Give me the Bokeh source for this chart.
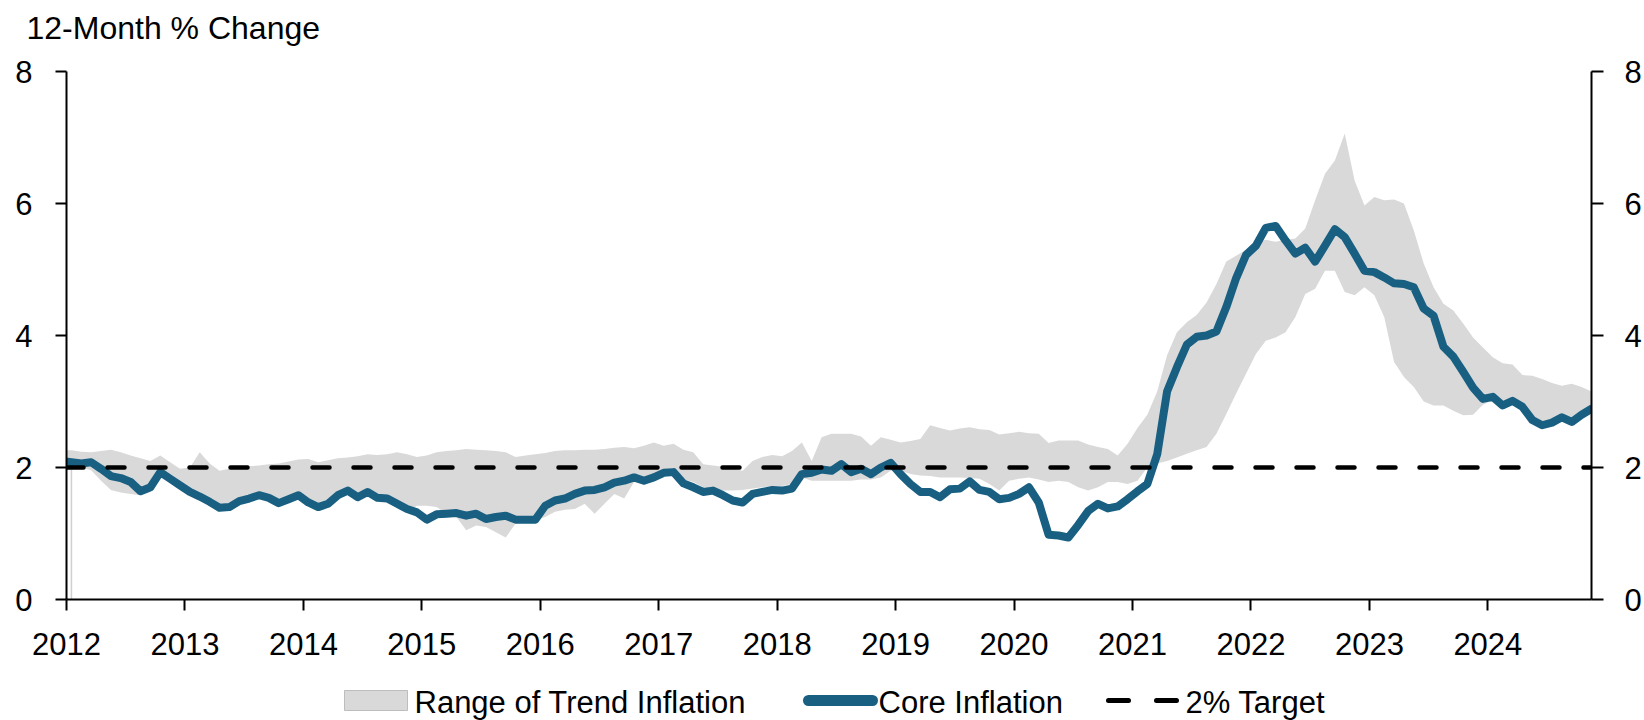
import numpy as np
import pandas as pd
from bokeh.plotting import figure
from bokeh.layouts import column
from bokeh.models import Range1d, LinearAxis, FixedTicker, Span
from bokeh.core.properties import value
from bokeh.embed import file_html
from bokeh.resources import INLINE

# ---------------- data (monthly, Dec 2011 .. Nov 2024) ----------------
months = pd.period_range("2011-12", "2024-11", freq="M")

core_inflation = [
    2.10, 2.08, 2.06, 2.08, 1.98, 1.87, 1.84, 1.78, 1.64, 1.70,
    1.93, 1.83, 1.73, 1.63, 1.56, 1.48, 1.39, 1.40, 1.49, 1.53,
    1.58, 1.54, 1.46, 1.52, 1.58, 1.47, 1.40, 1.45, 1.58, 1.65,
    1.55, 1.63, 1.54, 1.53, 1.45, 1.37, 1.32, 1.21, 1.29, 1.30,
    1.31, 1.27, 1.30, 1.22, 1.25, 1.27, 1.21, 1.21, 1.21, 1.42,
    1.50, 1.53, 1.60, 1.65, 1.66, 1.70, 1.77, 1.80, 1.85, 1.80,
    1.85, 1.92, 1.93, 1.76, 1.70, 1.63, 1.65, 1.58, 1.50, 1.47,
    1.60, 1.63, 1.66, 1.65, 1.68, 1.90, 1.92, 1.97, 1.95, 2.05,
    1.93, 1.98, 1.90, 2.00, 2.07, 1.90, 1.75, 1.63, 1.63, 1.55,
    1.67, 1.68, 1.79, 1.66, 1.63, 1.52, 1.54, 1.60, 1.70, 1.47,
    0.98, 0.97, 0.94, 1.13, 1.34, 1.45, 1.38, 1.41, 1.52, 1.64,
    1.75, 2.20, 3.15, 3.52, 3.86, 3.98, 4.00, 4.06, 4.43, 4.87,
    5.22, 5.36, 5.63, 5.66, 5.44, 5.24, 5.33, 5.12, 5.36, 5.61,
    5.49, 5.24, 4.98, 4.96, 4.88, 4.79, 4.78, 4.73, 4.41, 4.30,
    3.83, 3.68, 3.45, 3.21, 3.04, 3.07, 2.94, 3.01, 2.92, 2.72,
    2.64, 2.68, 2.76, 2.69, 2.80, 2.89,
]

trend_low = [
    2.02, 2.02, 2.00, 1.96, 1.80, 1.66, 1.62, 1.60, 1.58, 1.63,
    1.88, 1.80, 1.69, 1.59, 1.52, 1.44, 1.35, 1.36, 1.45, 1.49,
    1.54, 1.50, 1.42, 1.48, 1.54, 1.43, 1.36, 1.41, 1.54, 1.61,
    1.51, 1.59, 1.50, 1.49, 1.41, 1.33, 1.42, 1.42, 1.40, 1.30,
    1.25, 1.05, 1.12, 1.10, 1.02, 0.94, 1.15, 1.18, 1.20, 1.25,
    1.33, 1.36, 1.37, 1.45, 1.30, 1.45, 1.60, 1.53, 1.78, 1.76,
    1.80, 1.88, 1.90, 1.82, 1.78, 1.70, 1.66, 1.65, 1.65, 1.66,
    1.68, 1.70, 1.72, 1.72, 1.75, 1.85, 1.80, 1.80, 1.80, 1.80,
    1.80, 1.82, 1.82, 1.85, 1.95, 1.95, 1.90, 1.88, 1.87, 1.85,
    1.85, 1.85, 1.84, 1.83, 1.75, 1.65, 1.80, 1.83, 1.85, 1.82,
    1.78, 1.80, 1.78, 1.70, 1.65, 1.70, 1.78, 1.78, 1.75, 1.80,
    2.00, 2.06, 2.10, 2.15, 2.21, 2.26, 2.31, 2.51, 2.81, 3.12,
    3.42, 3.72, 3.92, 3.97, 4.05, 4.28, 4.63, 4.71, 4.98, 4.98,
    4.66, 4.61, 4.73, 4.61, 4.28, 3.60, 3.37, 3.22, 3.00, 2.94,
    2.94, 2.86, 2.79, 2.80, 2.95, 3.02, 2.89, 2.96, 2.87, 2.67,
    2.59, 2.63, 2.71, 2.64, 2.75, 2.84,
]

trend_high = [
    2.26, 2.26, 2.24, 2.23, 2.25, 2.27, 2.23, 2.18, 2.14, 2.10,
    2.18, 2.08, 1.98, 2.00, 2.23, 2.06, 1.95, 1.98, 2.01, 2.02,
    2.03, 2.05, 2.06, 2.09, 2.12, 2.13, 2.08, 2.11, 2.14, 2.15,
    2.17, 2.20, 2.19, 2.20, 2.23, 2.20, 2.16, 2.18, 2.23, 2.25,
    2.26, 2.28, 2.27, 2.26, 2.25, 2.23, 2.16, 2.18, 2.20, 2.22,
    2.25, 2.26, 2.26, 2.27, 2.27, 2.28, 2.30, 2.31, 2.29, 2.33,
    2.38, 2.33, 2.36, 2.27, 2.23, 2.05, 2.03, 2.01, 1.98, 1.95,
    2.10, 2.16, 2.19, 2.17, 2.25, 2.38, 2.10, 2.46, 2.51, 2.51,
    2.51, 2.47, 2.33, 2.46, 2.42, 2.38, 2.40, 2.43, 2.64, 2.60,
    2.56, 2.59, 2.61, 2.58, 2.57, 2.50, 2.52, 2.54, 2.52, 2.51,
    2.37, 2.41, 2.41, 2.41, 2.35, 2.31, 2.28, 2.18, 2.36, 2.60,
    2.80, 3.15, 3.70, 4.05, 4.20, 4.31, 4.50, 4.78, 5.12, 5.21,
    5.30, 5.40, 5.45, 5.42, 5.45, 5.47, 5.62, 6.05, 6.45, 6.65,
    7.06, 6.35, 5.97, 6.10, 6.05, 6.06, 6.00, 5.59, 5.09, 4.73,
    4.48, 4.38, 4.18, 3.97, 3.82, 3.67, 3.58, 3.56, 3.40, 3.39,
    3.34, 3.28, 3.24, 3.27, 3.22, 3.15,
]

target = 2.0
year_ticks = list(range(2012, 2025))
year_labels = [str(y) for y in year_ticks]
value_ticks = [0, 2, 4, 6, 8]

title_text = "12-Month % Change"
legend_labels = ["Range of Trend Inflation", "Core Inflation", "2% Target"]

# ---------------- styling ----------------
FONT = "Liberation Sans"
CORE_COLOR = "#185f82"
BAND_COLOR = "#d9d9d9"
W = 1644
TITLE_H = 50
LEGEND_H = 48
MAIN_H = 720 - TITLE_H - LEGEND_H


def strip(height):
    fig = figure(width=W, height=height, x_range=Range1d(0, W), y_range=Range1d(0, height),
                 output_backend="svg", toolbar_location=None, min_border=0,
                 x_axis_type=None, y_axis_type=None, frame_align=False)
    fig.outline_line_color = None
    fig.xgrid.visible = False
    fig.ygrid.visible = False
    fig.background_fill_color = "white"
    fig.border_fill_color = "white"
    return fig


# ---------------- title strip ----------------
t = strip(TITLE_H)
t.text(x=[26], y=[TITLE_H - 27], text=[title_text], text_font=value(FONT),
       text_font_size=value("32px"), text_color="black", text_baseline="middle", text_align="left")

# ---------------- main chart ----------------
x = np.asarray(months.year + (months.month - 0.5) / 12.0, dtype=float)

p = figure(
    width=W, height=MAIN_H,
    x_range=Range1d(2012.0, x[-1]), y_range=Range1d(0, 8),
    output_backend="svg", toolbar_location=None,
    min_border_left=66, min_border_right=51, min_border_top=71 - TITLE_H,
    min_border_bottom=MAIN_H - (599 - TITLE_H),
)
p.outline_line_color = None
p.xgrid.visible = False
p.ygrid.visible = False
p.background_fill_color = "white"
p.border_fill_color = "white"

# band
p.varea(x=x, y1=trend_low, y2=trend_high, fill_color=BAND_COLOR, fill_alpha=1.0)
p.segment(x0=[x[1]], y0=[0], x1=[x[1]], y1=[trend_low[1]], line_color="#cfcfcf", line_width=1.5)

# core line
p.line(x=x, y=core_inflation, line_color=CORE_COLOR, line_width=8, line_join="round", line_cap="round")

# 2% target
span = Span(location=target, dimension="width", line_color="black", line_width=4.5,
            line_dash="17 24", line_cap="round")
p.add_layout(span)


def style_axis(ax):
    ax.axis_line_color = "black"
    ax.axis_line_width = 2
    ax.major_tick_line_color = "black"
    ax.major_tick_line_width = 2
    ax.major_tick_in = 0
    ax.minor_tick_line_color = None
    ax.major_label_text_font = FONT
    ax.major_label_text_font_size = "31px"
    ax.major_label_text_color = "black"


xa = p.xaxis[0]
style_axis(xa)
xa.ticker = FixedTicker(ticks=year_ticks)
xa.major_label_overrides = {tk: lb for tk, lb in zip(year_ticks, year_labels)}
xa.major_tick_out = 11
xa.major_label_standoff = 22

ya = p.yaxis[0]
style_axis(ya)
ya.ticker = FixedTicker(ticks=value_ticks)
ya.major_tick_out = 11
ya.major_label_standoff = 23

yr = LinearAxis(ticker=FixedTicker(ticks=value_ticks))
style_axis(yr)
yr.major_tick_out = 12
yr.major_label_standoff = 21
p.add_layout(yr, "right")

# ---------------- legend strip ----------------
lg = strip(LEGEND_H)
cy = LEGEND_H - 28  # glyph centre line
lg.quad(left=[344], right=[407], bottom=[cy - 10], top=[cy + 10],
        fill_color=BAND_COLOR, line_color="#bdbdbd", line_width=1)
lg.line(x=[808, 872], y=[cy, cy], line_color=CORE_COLOR, line_width=11, line_cap="round")
lg.line(x=[1108, 1176], y=[cy, cy], line_color="black", line_width=5, line_dash="20 28", line_cap="round")
lg.text(x=[414, 878, 1185], y=[cy - 2] * 3, text=legend_labels, text_font=value(FONT),
        text_font_size=value("31px"), text_color="black", text_baseline="middle", text_align="left")

layout = column(t, p, lg, spacing=0)
open("out.html", "w").write(file_html(layout, INLINE))
